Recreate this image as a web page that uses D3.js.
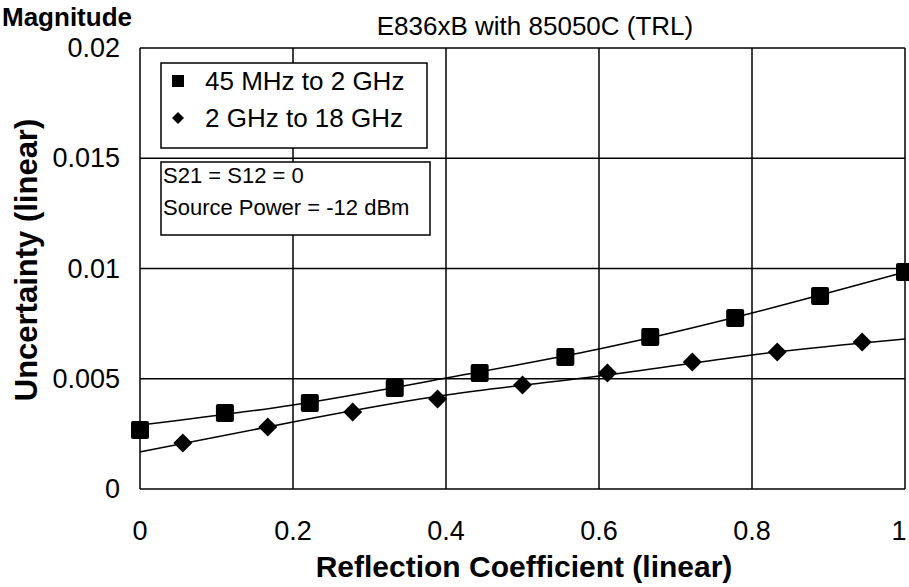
<!DOCTYPE html>
<html>
<head>
<meta charset="utf-8">
<script src="https://cdn.jsdelivr.net/npm/d3@7"></script>
<style>
  body { margin: 0; background: #fff; }
  svg { display: block; }
</style>
</head>
<body>
<div id="chart"></div>
<script>
// data
const xTicks = [0, 0.2, 0.4, 0.6, 0.8, 1];
const yTicks = [0, 0.005, 0.01, 0.015, 0.02];
const xTickLabels = ['0', '0.2', '0.4', '0.6', '0.8', '1'];
const yTickLabels = ['0', '0.005', '0.01', '0.015', '0.02'];

// 45 MHz to 2 GHz (squares)
const lowX = [0, 0.111, 0.222, 0.333, 0.444, 0.556, 0.667, 0.778, 0.889, 1];
const lowY = [0.00268, 0.00345, 0.0039, 0.00458, 0.00526, 0.00599, 0.00689, 0.00776, 0.00875, 0.00984];
// 2 GHz to 18 GHz (diamonds)
const highX = [0.056, 0.167, 0.278, 0.389, 0.5, 0.611, 0.722, 0.833, 0.944];
const highY = [0.00209, 0.00281, 0.00349, 0.00408, 0.00472, 0.00526, 0.00576, 0.00621, 0.00667];

// trend lines
const trendX = [0, 0.2, 0.4, 0.6, 0.8, 1];
const lowTrend = [0.0029, 0.00381, 0.00503, 0.00635, 0.00798, 0.00984];
const highTrend = [0.00168, 0.00304, 0.00426, 0.00512, 0.00608, 0.0068];

const fontFamily = '"Liberation Sans", Arial, sans-serif';

const width = 909, height = 587;
const plot = { left: 140, right: 905, top: 48, bottom: 489 };

const svg = d3.select('#chart')
    .append('svg')
    .attr('width', width)
    .attr('height', height)
    .style('background-color', '#fff');

const x = d3.scaleLinear().domain([0, 1]).range([plot.left, plot.right]);
const y = d3.scaleLinear().domain([0, 0.02]).range([plot.bottom, plot.top]);

// grid
const grid = svg.append('g').attr('stroke', '#000').attr('stroke-width', 1.5);
grid.selectAll('line.v')
    .data(xTicks)
    .enter()
    .append('line')
    .attr('x1', d => x(d)).attr('x2', d => x(d))
    .attr('y1', plot.top).attr('y2', plot.bottom);
grid.selectAll('line.h')
    .data(yTicks)
    .enter()
    .append('line')
    .attr('y1', d => y(d)).attr('y2', d => y(d))
    .attr('x1', plot.left).attr('x2', plot.right);

// tick labels
svg.append('g')
    .selectAll('text')
    .data(yTicks)
    .enter()
    .append('text')
    .attr('x', 120)
    .attr('y', d => y(d) + 9)
    .attr('text-anchor', 'end')
    .style('font-family', fontFamily)
    .style('font-size', '27px')
    .text((d, i) => yTickLabels[i]);

// last label sits at the window edge, keep it inside
svg.append('g')
    .selectAll('text')
    .data(xTicks)
    .enter()
    .append('text')
    .attr('x', d => Math.min(x(d), 899))
    .attr('y', 540)
    .attr('text-anchor', 'middle')
    .style('font-family', fontFamily)
    .style('font-size', '27px')
    .text((d, i) => xTickLabels[i]);

// legend boxes (drawn over the grid)
const legend = svg.append('g');
legend.append('rect')
    .attr('x', 161).attr('y', 63).attr('width', 266).attr('height', 85)
    .attr('fill', '#fff').attr('stroke', '#000').attr('stroke-width', 1.5);
legend.append('rect')
    .attr('x', 161).attr('y', 162).attr('width', 269).attr('height', 73)
    .attr('fill', '#fff').attr('stroke', '#000').attr('stroke-width', 1.5);

legend.append('rect')
    .attr('x', 172).attr('y', 75).attr('width', 12).attr('height', 12)
    .attr('fill', '#000');
legend.append('path')
    .attr('d', 'M178,112 L184,118 L178,124 L172,118 Z')
    .attr('fill', '#000');

legend.append('text')
    .attr('x', 205).attr('y', 90)
    .style('font-family', fontFamily).style('font-size', '26px')
    .text('45 MHz to 2 GHz');
legend.append('text')
    .attr('x', 205).attr('y', 127)
    .style('font-family', fontFamily).style('font-size', '26px')
    .text('2 GHz to 18 GHz');
legend.append('text')
    .attr('x', 163).attr('y', 183)
    .style('font-family', fontFamily).style('font-size', '22px')
    .text('S21 = S12 = 0');
legend.append('text')
    .attr('x', 163).attr('y', 215)
    .style('font-family', fontFamily).style('font-size', '22px')
    .text('Source Power = -12 dBm');

// trend lines
const line = d3.line()
    .x(d => x(d[0]))
    .y(d => y(d[1]))
    .curve(d3.curveNatural);

svg.append('path')
    .datum(trendX.map((v, i) => [v, lowTrend[i]]))
    .attr('d', line)
    .attr('fill', 'none').attr('stroke', '#000').attr('stroke-width', 1.5);
svg.append('path')
    .datum(trendX.map((v, i) => [v, highTrend[i]]))
    .attr('d', line)
    .attr('fill', 'none').attr('stroke', '#000').attr('stroke-width', 1.5);

// markers
svg.append('g')
    .selectAll('rect')
    .data(lowX.map((v, i) => [v, lowY[i]]))
    .enter()
    .append('rect')
    .attr('x', d => x(d[0]) - 9)
    .attr('y', d => y(d[1]) - 9)
    .attr('width', 18).attr('height', 18)
    .attr('rx', 2)
    .attr('fill', '#000');

const diamond = d3.symbol().type(d3.symbolDiamond2).size(230);
svg.append('g')
    .selectAll('path')
    .data(highX.map((v, i) => [v, highY[i]]))
    .enter()
    .append('path')
    .attr('d', diamond)
    .attr('transform', d => 'translate(' + x(d[0]) + ',' + y(d[1]) + ')')
    .attr('fill', '#000');

// titles ('Magnitude' is clipped at the top in the original, kept readable here)
svg.append('text')
    .attr('x', 2).attr('y', 26)
    .style('font-family', fontFamily).style('font-size', '26px').style('font-weight', 'bold')
    .text('Magnitude');

svg.append('text')
    .attr('x', 535).attr('y', 35)
    .attr('text-anchor', 'middle')
    .style('font-family', fontFamily).style('font-size', '26px')
    .text('E836xB with 85050C (TRL)');

svg.append('text')
    .attr('x', 524).attr('y', 577)
    .attr('text-anchor', 'middle')
    .style('font-family', fontFamily).style('font-size', '30px').style('font-weight', 'bold')
    .text('Reflection Coefficient (linear)');

svg.append('text')
    .attr('transform', 'translate(37,260) rotate(-90)')
    .attr('text-anchor', 'middle')
    .style('font-family', fontFamily).style('font-size', '31px').style('font-weight', 'bold')
    .text('Uncertainty (linear)');
</script>
</body>
</html>
